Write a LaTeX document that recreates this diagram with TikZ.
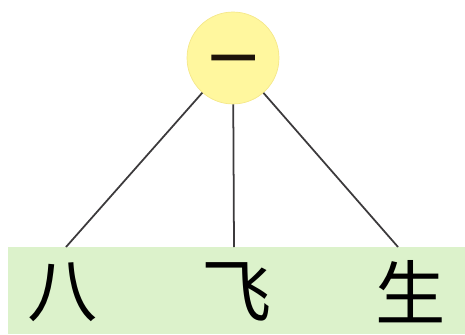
\documentclass[tikz,border=0pt]{standalone}
\usepackage{fontspec}
\usepackage{xcolor}
\usetikzlibrary{positioning,calc}
\newfontfamily\cjk{Noto Sans CJK SC}
\newfontfamily\cjkbold{Noto Sans CJK SC}[FakeBold=4]
\definecolor{sunyellow}{HTML}{FFF79E}
\definecolor{sunedge}{HTML}{F5E88A}
\definecolor{bandgreen}{HTML}{DCF2CB}
\definecolor{stroke}{HTML}{3C3A3C}

\begin{document}
\begin{tikzpicture}[
    x=0.02cm, y=-0.02cm,
    root/.style={circle, draw=sunedge, fill=sunyellow, minimum size=1.84cm, inner sep=0pt,
        text=black!85!brown, font=\cjkbold\fontsize{26}{26}\selectfont},
    leaf/.style={inner sep=0pt, font=\cjk\fontsize{40}{40}\selectfont},
    branch/.style={draw=stroke, line width=1pt}
]
    \useasboundingbox (0,0) rectangle (465,334);

    \fill[bandgreen] (8,247) rectangle (465,334);

    \node[root] (yi) at (233,58) {\raisebox{-0.38em}[0pt][0pt]{一}};

    \node[leaf] (ba) at (63,292) {八};
    \node[leaf] (fei) at (237,292) {飞};
    \node[leaf] (sheng) at (411,292) {生};

    \coordinate (ba-top) at (66,247);
    \coordinate (fei-top) at (234,247);
    \coordinate (sheng-top) at (398,247);

    \draw[branch] (yi) -- (ba-top);
    \draw[branch] (yi) -- (fei-top);
    \draw[branch] (yi) -- (sheng-top);
\end{tikzpicture}
\end{document}
